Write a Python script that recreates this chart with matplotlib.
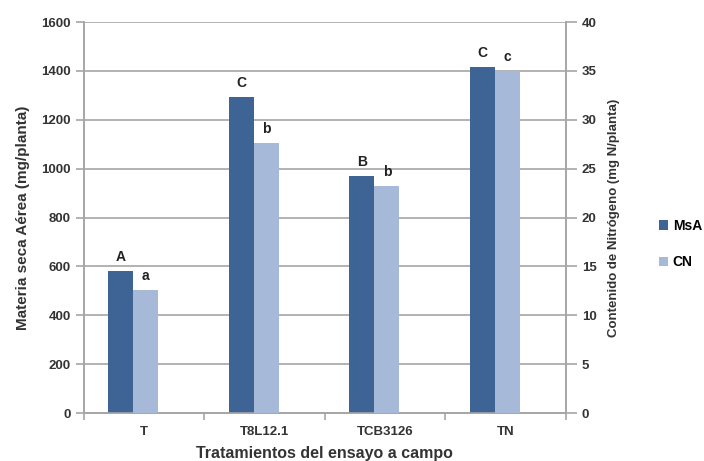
import matplotlib.pyplot as plt
import numpy as np

plt.rcParams['font.family'] = ['Liberation Sans', 'DejaVu Sans']

tratamientos = ['T', 'T8L12.1', 'TCB3126', 'TN']
msa = [580, 1295, 970, 1418]          # mg/planta (eje izquierdo)
cn = [12.6, 27.6, 23.2, 35.0]         # mg N/planta (eje derecho)
letras_msa = ['A', 'C', 'B', 'C']
letras_cn = ['a', 'b', 'b', 'c']

col_msa = '#3E6496'
col_cn = '#A7B9D8'
gris = '#A6A6A6'

fig = plt.figure(figsize=(7.04, 4.61), dpi=100)
ax = fig.add_axes([0.119, 0.104, 0.685, 0.848])
ax2 = ax.twinx()

x = np.arange(len(tratamientos))
w = 0.208
b1 = ax.bar(x - 0.09 - w / 2, msa, w, color=col_msa, label='MsA', zorder=3)
b2 = ax2.bar(x - 0.09 + w / 2, cn, w, color=col_cn, label='CN', zorder=3)

for r, t in zip(b1, letras_msa):
    ax.annotate(t, (r.get_x() + r.get_width() / 2, r.get_height()),
                xytext=(0, 5), textcoords='offset points', ha='center',
                va='bottom', fontsize=10, fontweight='bold', color='#222222')
for r, t in zip(b2, letras_cn):
    ax2.annotate(t, (r.get_x() + r.get_width() / 2, r.get_height()),
                 xytext=(0, 5), textcoords='offset points', ha='center',
                 va='bottom', fontsize=10, fontweight='bold', color='#222222')

ax.set_xlim(-0.5, len(tratamientos) - 0.5)
ax.set_ylim(0, 1600)
ax.set_yticks(range(0, 1601, 200))
ax2.set_ylim(0, 40)
ax2.set_yticks(range(0, 41, 5))

ax.yaxis.grid(True, color=gris, linewidth=1.2, zorder=0)
ax.set_axisbelow(True)

ax.set_xticks(x)
ax.set_xticklabels(tratamientos)
ax.set_xticks(np.arange(-0.5, len(tratamientos)), minor=True)
ax.tick_params(axis='x', which='major', length=0, pad=9)
ax.tick_params(axis='x', which='minor', length=5, color=gris, width=1.2)
ax.tick_params(axis='y', length=6, color=gris, width=1.2)
ax2.tick_params(axis='y', length=8, color=gris, width=1.2)

for a in (ax, ax2):
    for lab in a.get_xticklabels() + a.get_yticklabels():
        lab.set_fontweight('bold')
        lab.set_fontsize(9.5)
        lab.set_color('#333333')
    a.spines['top'].set_visible(False)
    for s in ('left', 'right', 'bottom'):
        a.spines[s].set_color(gris)
        a.spines[s].set_linewidth(1.2)

ax.set_ylabel('Materia seca Aérea (mg/planta)', fontsize=11,
              fontweight='bold', color='#333333', labelpad=8)
ax2.set_ylabel('Contenido de Nitrógeno (mg N/planta)', fontsize=9.5,
               fontweight='bold', color='#333333', labelpad=8)
ax.set_xlabel('Tratamientos del ensayo a campo', fontsize=11.5,
              fontweight='bold', color='#333333', labelpad=6)

fig.legend(handles=[b1, b2], labels=['MsA', 'CN'], loc='center left',
           bbox_to_anchor=(0.918, 0.47), frameon=False,
           handlelength=0.7, handleheight=0.7, handletextpad=0.3,
           labelspacing=1.6, prop={'weight': 'bold', 'size': 10})

fig.savefig('out.png', dpi=100)
